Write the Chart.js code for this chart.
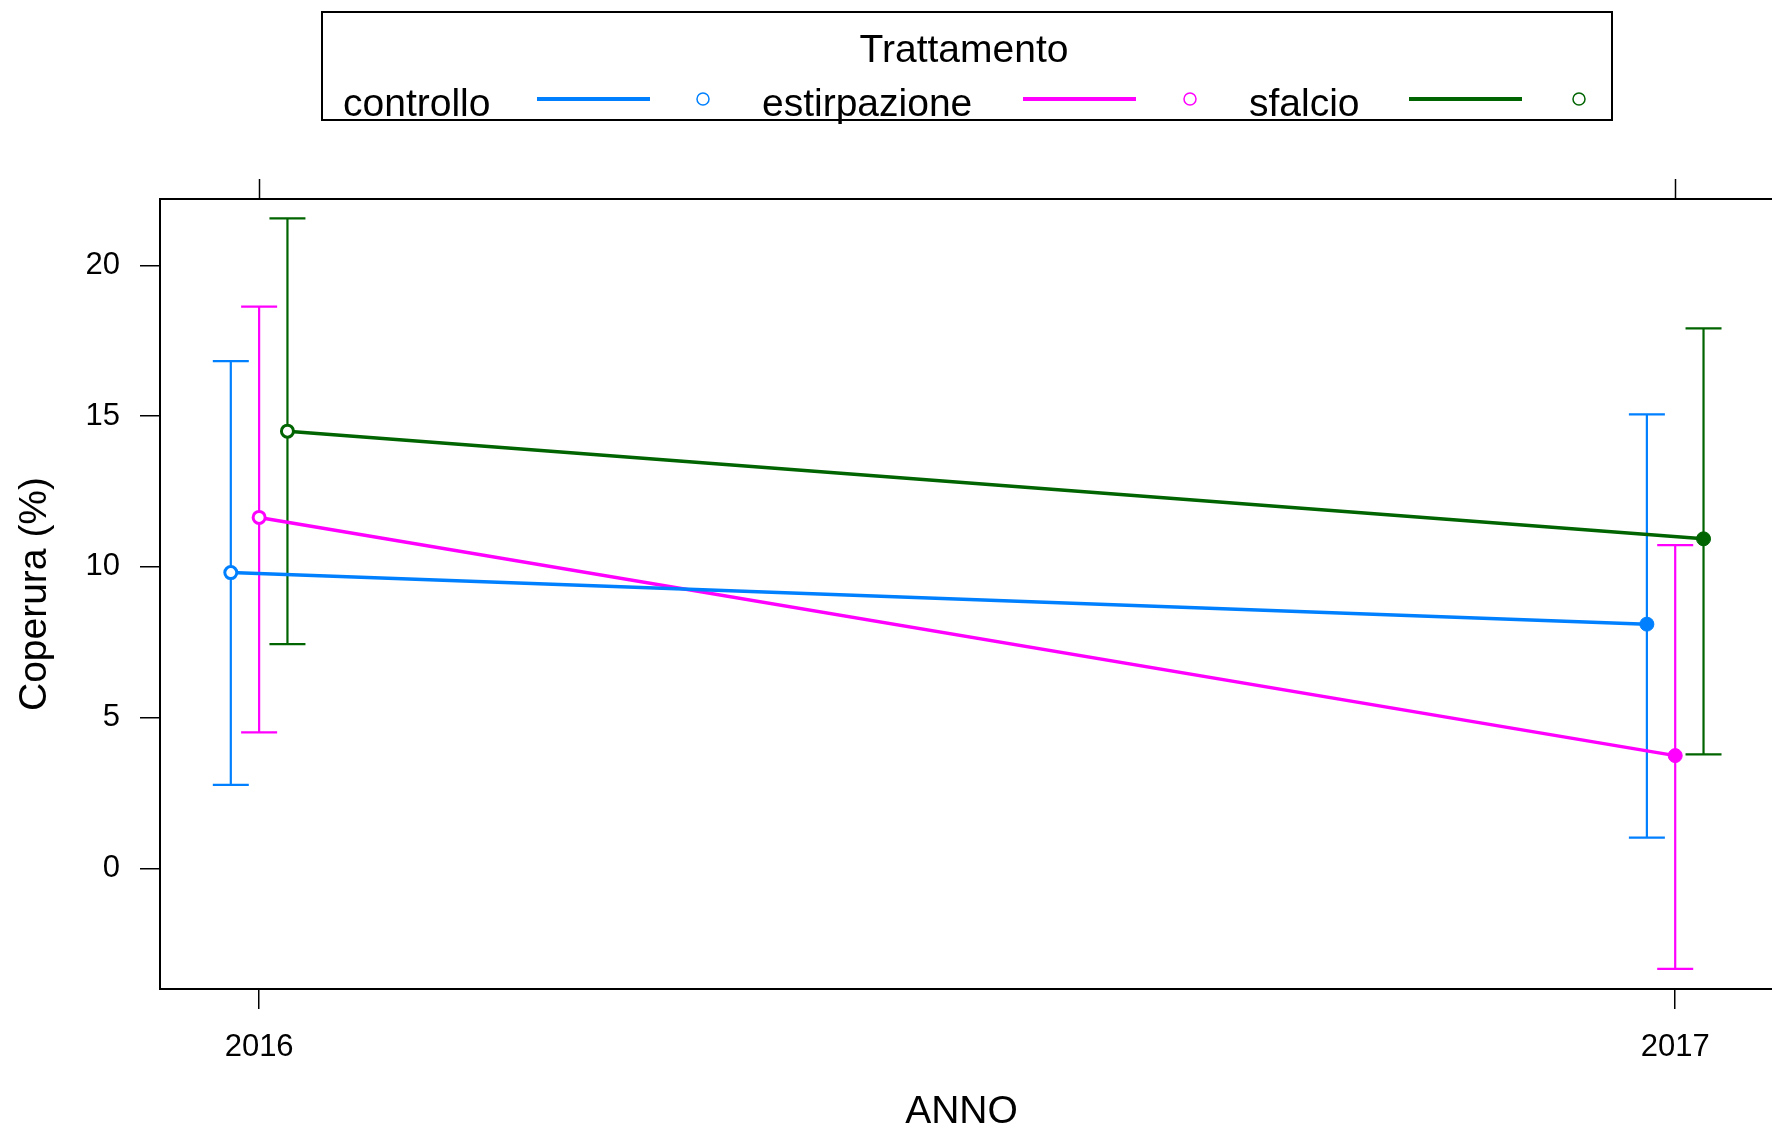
<!DOCTYPE html>
<html>
<head>
<meta charset="utf-8">
<script src="https://cdn.jsdelivr.net/npm/chart.js@4.4.0/dist/chart.umd.min.js"></script>
<style>
  html, body { margin: 0; padding: 0; background: #fff; }
  #wrap { width: 1772px; height: 1132px; }
</style>
</head>
<body>
<div id="wrap"><canvas id="chart" width="1772" height="1132"></canvas></div>
<script>
// --- DATI ---
const anni = [2016, 2017];
const trattamenti = ['controllo', 'estirpazione', 'sfalcio'];
const colori = ['#0080ff', '#ff00ff', '#006400'];
const spostamento = [-0.02, 0, 0.02]; // dodge of the groups around each year

const mediaControllo = [9.81, 8.10];
const infControllo = [2.77, 1.02];
const supControllo = [16.82, 15.06];

const mediaEstirpazione = [11.64, 3.74];
const infEstirpazione = [4.51, -3.33];
const supEstirpazione = [18.63, 10.72];

const mediaSfalcio = [14.50, 10.93];
const infSfalcio = [7.44, 3.78];
const supSfalcio = [21.56, 17.91];

const yTicks = [0, 5, 10, 15, 20];

const medie = [mediaControllo, mediaEstirpazione, mediaSfalcio];
const inferiori = [infControllo, infEstirpazione, infSfalcio];
const superiori = [supControllo, supEstirpazione, supSfalcio];

const FONT = '"Liberation Sans", Arial, sans-serif';

const datasets = trattamenti.map((nome, k) => ({
    label: nome,
    data: anni.map((a, i) => ({ x: a + spostamento[k], y: medie[k][i] })),
    borderColor: colori[k],
    borderWidth: 3.5,
    pointRadius: [6, 7],
    pointBorderWidth: [3, 1],
    pointBackgroundColor: ['#ffffff', colori[k]],
    pointBorderColor: colori[k],
    tension: 0
}));

// error bars, plot frame, top ticks and legend box
const extras = {
    id: 'extras',
    beforeDatasetsDraw(chart) {
        const ctx = chart.ctx;
        const xs = chart.scales.x, ys = chart.scales.y;
        ctx.save();
        ctx.lineWidth = 2.2;
        trattamenti.forEach((nome, k) => {
            ctx.strokeStyle = colori[k];
            anni.forEach((a, i) => {
                const px = xs.getPixelForValue(a + spostamento[k]);
                const top = ys.getPixelForValue(superiori[k][i]);
                const bot = ys.getPixelForValue(inferiori[k][i]);
                ctx.beginPath();
                ctx.moveTo(px, top); ctx.lineTo(px, bot);
                ctx.moveTo(px - 18, top); ctx.lineTo(px + 18, top);
                ctx.moveTo(px - 18, bot); ctx.lineTo(px + 18, bot);
                ctx.stroke();
            });
        });
        ctx.restore();
    },
    afterDraw(chart) {
        const ctx = chart.ctx;
        const a = chart.chartArea;
        const xs = chart.scales.x;
        ctx.save();
        ctx.strokeStyle = '#000';
        ctx.lineWidth = 2;
        // frame runs to the right edge of the canvas, as in the original
        ctx.strokeRect(a.left, a.top, chart.width + 2 - a.left, a.bottom - a.top);
        ctx.lineWidth = 1.5;
        anni.forEach(v => {
            const px = Math.round(xs.getPixelForValue(v)) + 0.5;
            ctx.beginPath();
            ctx.moveTo(px, a.top); ctx.lineTo(px, a.top - 20);
            ctx.stroke();
        });

        // legend
        ctx.lineWidth = 2;
        ctx.strokeRect(322, 12, 1290, 108);
        ctx.fillStyle = '#000';
        ctx.font = '39px ' + FONT;
        ctx.textAlign = 'center';
        ctx.textBaseline = 'alphabetic';
        ctx.fillText('Trattamento', 964, 62);
        const testoX = [343, 762, 1249];
        const lineaX = [537, 1023, 1409];
        const cerchioX = [703, 1190, 1579];
        ctx.textAlign = 'left';
        trattamenti.forEach((nome, k) => {
            ctx.fillStyle = '#000';
            ctx.fillText(nome, testoX[k], 116);
            ctx.strokeStyle = colori[k];
            ctx.lineWidth = 4;
            ctx.beginPath();
            ctx.moveTo(lineaX[k], 99); ctx.lineTo(lineaX[k] + 113, 99);
            ctx.stroke();
            ctx.lineWidth = 1.5;
            ctx.beginPath();
            ctx.arc(cerchioX[k], 99, 6, 0, Math.PI * 2);
            ctx.stroke();
        });
        ctx.restore();
    }
};

new Chart(document.getElementById('chart').getContext('2d'), {
    type: 'line',
    data: { datasets: datasets },
    options: {
        responsive: false,
        animation: false,
        devicePixelRatio: 1,
        layout: { padding: { top: 199, right: 0, left: 0, bottom: 0 } },
        plugins: { legend: { display: false }, tooltip: { enabled: false } },
        scales: {
            x: {
                type: 'linear',
                min: 2015.93,
                max: 2017.062,
                afterBuildTicks: s => { s.ticks = anni.map(v => ({ value: v })); },
                afterFit: s => { s.height = 143; },
                ticks: {
                    font: { size: 31, family: FONT },
                    color: '#000',
                    padding: 20,
                    maxRotation: 0,
                    autoSkip: false,
                    callback: v => String(v)
                },
                grid: { drawOnChartArea: false, drawTicks: true, tickLength: 20, color: '#000', lineWidth: 1.5 },
                border: { display: false },
                title: {
                    display: true, text: 'ANNO', color: '#000',
                    font: { size: 39, family: FONT, lineHeight: 1 },
                    padding: { top: 0, bottom: 0 }
                }
            },
            y: {
                type: 'linear',
                min: -4.0,
                max: 22.2,
                afterBuildTicks: s => { s.ticks = yTicks.map(v => ({ value: v })); },
                afterFit: s => { s.width = 160; },
                ticks: {
                    font: { size: 31, family: FONT },
                    color: '#000',
                    padding: 20,
                    autoSkip: false,
                    callback: v => String(v)
                },
                grid: { drawOnChartArea: false, drawTicks: true, tickLength: 20, color: '#000', lineWidth: 1.5 },
                border: { display: false },
                title: {
                    display: true, text: 'Coperura (%)', color: '#000',
                    font: { size: 39, family: FONT, lineHeight: 1 },
                    padding: { top: 16, bottom: 0 }
                }
            }
        }
    },
    plugins: [extras]
});
</script>
</body>
</html>
